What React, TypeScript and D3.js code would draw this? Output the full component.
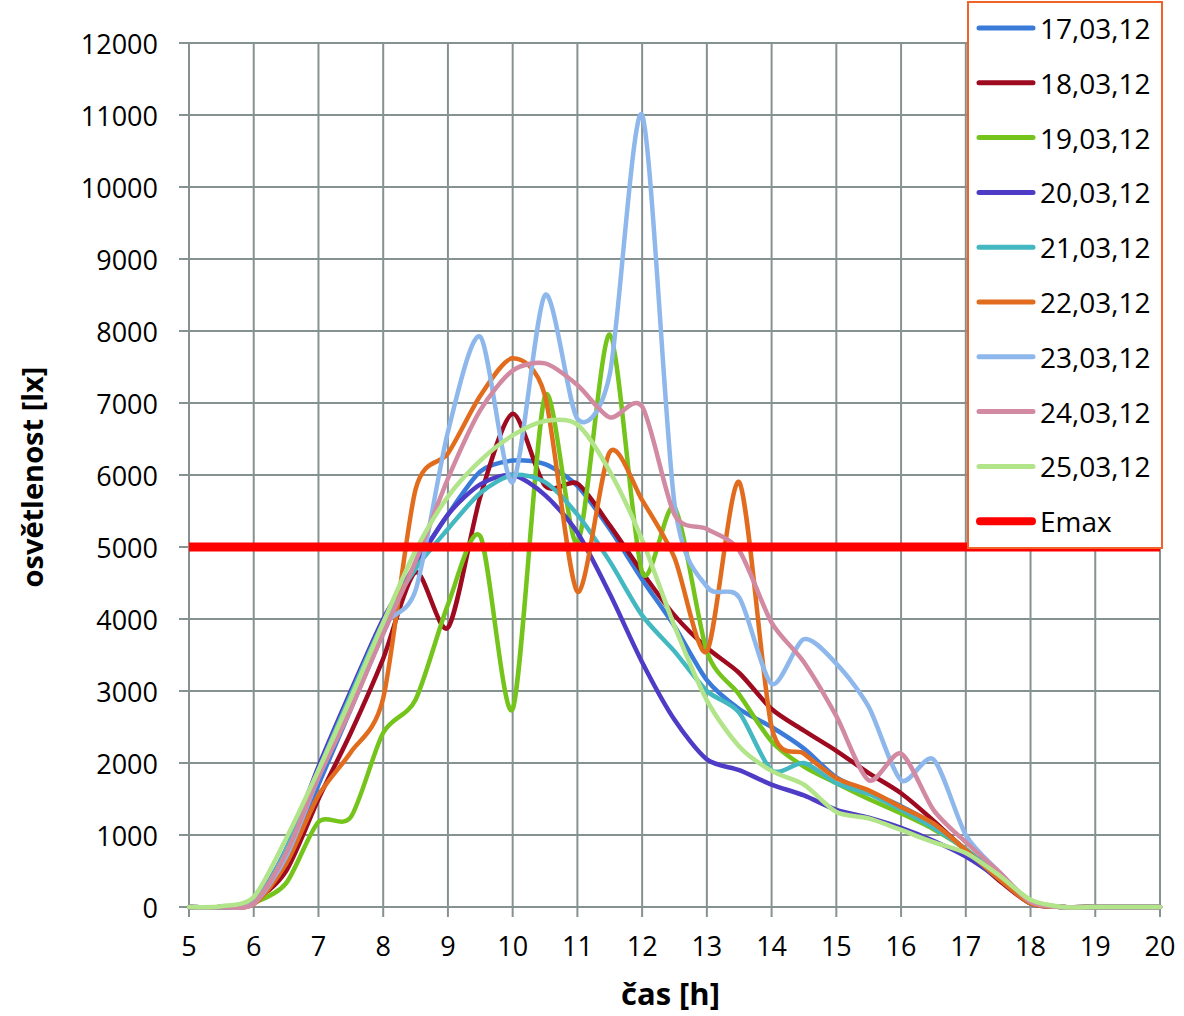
import React, { useEffect, useRef } from "react";
import * as d3 from "d3";

const hours = [5, 5.5, 6, 6.5, 7, 7.5, 8, 8.5, 9, 9.5, 10, 10.5, 11, 11.5, 12, 12.5, 13, 13.5, 14, 14.5, 15, 15.5, 16, 16.5, 17, 17.5, 18, 18.5, 19, 19.5, 20];

const s17 = [0, 0, 50, 650, 1700, 2750, 3800, 4750, 5450, 6050, 6200, 6150, 5850, 5250, 4550, 3900, 3150, 2750, 2500, 2200, 1800, 1600, 1400, 1150, 800, 450, 80, 0, 0, 0, 0];
const s18 = [0, 0, 80, 500, 1500, 2420, 3450, 4650, 3880, 5700, 6850, 5850, 5880, 5300, 4650, 4050, 3600, 3250, 2750, 2450, 2170, 1860, 1580, 1200, 780, 380, 50, 0, 0, 0, 0];
const s19 = [0, 0, 60, 330, 1180, 1250, 2420, 2880, 4200, 5150, 2750, 7100, 5050, 7950, 4650, 5550, 3550, 2950, 2300, 1950, 1720, 1500, 1300, 1080, 800, 420, 60, 0, 0, 0, 0];
const s20 = [0, 0, 60, 800, 1950, 3000, 4000, 4750, 5450, 5870, 6000, 5720, 5200, 4350, 3400, 2600, 2050, 1900, 1700, 1550, 1350, 1240, 1100, 920, 700, 400, 50, 0, 0, 0, 0];
const s21 = [0, 0, 60, 800, 1900, 2950, 3950, 4700, 5250, 5750, 6000, 5900, 5450, 4800, 4050, 3550, 3000, 2700, 1900, 2000, 1720, 1570, 1350, 1100, 800, 420, 60, 0, 0, 0, 0];
const s22 = [0, 0, 40, 600, 1550, 2150, 2900, 5800, 6300, 7100, 7620, 7100, 4380, 6320, 5650, 4850, 3550, 5900, 2500, 2130, 1790, 1620, 1390, 1160, 790, 400, 50, 0, 0, 0, 0];
const s23 = [0, 0, 50, 700, 1800, 2850, 3900, 4400, 6600, 7920, 5900, 8500, 6780, 7400, 11000, 5600, 4450, 4300, 3100, 3720, 3380, 2780, 1760, 2050, 1000, 500, 80, 0, 0, 0, 0];
const s24 = [0, 0, 50, 750, 1800, 2750, 3800, 4800, 5950, 6900, 7450, 7550, 7250, 6800, 6950, 5450, 5250, 4950, 3950, 3400, 2650, 1760, 2130, 1350, 900, 500, 70, 0, 0, 0, 0];
const s25 = [0, 10, 140, 950, 1900, 2900, 3950, 4950, 5700, 6200, 6550, 6750, 6700, 6050, 5100, 3900, 2870, 2230, 1890, 1700, 1320, 1230, 1070, 900, 750, 450, 100, 0, 0, 0, 0];

const seriesNames = ["17,03,12", "18,03,12", "19,03,12", "20,03,12", "21,03,12", "22,03,12", "23,03,12", "24,03,12", "25,03,12"];
const seriesValues = [s17, s18, s19, s20, s21, s22, s23, s24, s25];
const seriesColors = ["#3A7BDA", "#9E0A20", "#74C41C", "#4E3CC6", "#44B8C0", "#E26C1E", "#8EB8EC", "#D28AA2", "#B2E48A"];

const emaxName = "Emax";
const emaxValue = 5000;
const emaxColor = "#FF0000";

const xTicks = [5, 6, 7, 8, 9, 10, 11, 12, 13, 14, 15, 16, 17, 18, 19, 20];
const yTicks = [0, 1000, 2000, 3000, 4000, 5000, 6000, 7000, 8000, 9000, 10000, 11000, 12000];

const xTitle = "čas [h]";
const yTitle = "osvětlenost [lx]";

export default function App() {
  const ref = useRef<SVGSVGElement>(null);

  useEffect(() => {
    const svg = d3.select(ref.current);
    svg.selectAll("*").remove();

    const left = 189, right = 1160, top = 43, bottom = 907;
    const x = d3.scaleLinear().domain([5, 20]).range([left, right]);
    const y = d3.scaleLinear().domain([0, 12000]).range([bottom, top]);
    const gridColor = "#869292";
    const font = "'Open Sans', sans-serif";

    const g = svg.append("g");

    // grid
    g.selectAll("line.vg").data(xTicks).enter().append("line")
      .attr("x1", d => x(d)).attr("x2", d => x(d))
      .attr("y1", top).attr("y2", bottom + 10)
      .attr("stroke", gridColor).attr("stroke-width", 2);
    g.selectAll("line.hg").data(yTicks).enter().append("line")
      .attr("x1", left - 10).attr("x2", right)
      .attr("y1", d => y(d)).attr("y2", d => y(d))
      .attr("stroke", gridColor).attr("stroke-width", 2);

    // tick labels
    g.selectAll("text.yl").data(yTicks).enter().append("text")
      .attr("x", 158).attr("y", d => y(d))
      .attr("text-anchor", "end").attr("dominant-baseline", "central")
      .attr("font-family", font).attr("font-size", 27).attr("fill", "#000")
      .text(d => String(d));
    g.selectAll("text.xl").data(xTicks).enter().append("text")
      .attr("x", d => x(d)).attr("y", 945)
      .attr("text-anchor", "middle").attr("dominant-baseline", "central")
      .attr("font-family", font).attr("font-size", 27).attr("fill", "#000")
      .text(d => String(d));

    // titles
    g.append("text")
      .attr("x", (left + right) / 2 - 4).attr("y", 993)
      .attr("text-anchor", "middle").attr("dominant-baseline", "central")
      .attr("font-family", font).attr("font-size", 31).attr("font-weight", "bold")
      .text(xTitle);
    g.append("text")
      .attr("transform", `translate(31, ${(top + bottom) / 2 + 2}) rotate(-90)`)
      .attr("text-anchor", "middle").attr("dominant-baseline", "central")
      .attr("font-family", font).attr("font-size", 29).attr("font-weight", "bold")
      .text(yTitle);

    // series
    const line = d3.line<number>()
      .x((_, i) => x(hours[i]))
      .y(d => y(d))
      .curve(d3.curveCardinal.tension(0.2));

    seriesValues.forEach((vals, k) => {
      g.append("path")
        .attr("d", line(vals))
        .attr("fill", "none")
        .attr("stroke", seriesColors[k])
        .attr("stroke-width", 4.5)
        .attr("stroke-linejoin", "round")
        .attr("stroke-linecap", "round");
    });

    // Emax
    g.append("line")
      .attr("x1", x(5)).attr("x2", x(20))
      .attr("y1", y(emaxValue)).attr("y2", y(emaxValue))
      .attr("stroke", emaxColor).attr("stroke-width", 9);

    // legend
    const lg = svg.append("g");
    lg.append("rect")
      .attr("x", 968).attr("y", 2).attr("width", 194).attr("height", 546)
      .attr("fill", "#fff").attr("stroke", "#F0642A").attr("stroke-width", 2);
    const names = [...seriesNames, emaxName];
    const colors = [...seriesColors, emaxColor];
    names.forEach((n, i) => {
      const cy = 28 + i * 54.8;
      const isE = i === names.length - 1;
      lg.append("line")
        .attr("x1", isE ? 980 : 979).attr("x2", isE ? 1032 : 1033)
        .attr("y1", cy).attr("y2", cy)
        .attr("stroke", colors[i]).attr("stroke-width", isE ? 8 : 5)
        .attr("stroke-linecap", "round");
      lg.append("text")
        .attr("x", 1040).attr("y", cy)
        .attr("dominant-baseline", "central")
        .attr("font-family", font).attr("font-size", 28).attr("fill", "#000")
        .text(n);
    });
  }, []);

  return (
    <svg ref={ref} width={1184} height={1016}
      style={{ position: "absolute", left: 0, top: 0, background: "#fff" }} />
  );
}
